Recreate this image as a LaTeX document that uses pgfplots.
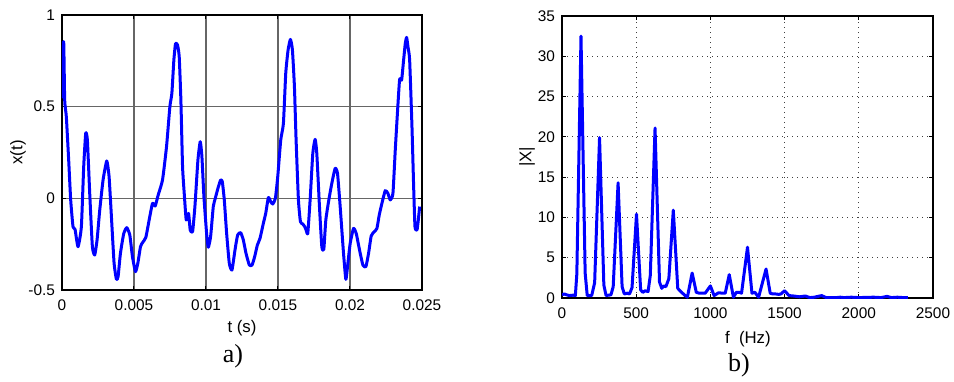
\documentclass[border=0pt]{standalone}
\usepackage{fontspec}
\setmainfont{Liberation Sans}
\newfontfamily\timesfont{Liberation Serif}
\usepackage{pgfplots}
\pgfplotsset{compat=1.18}
\definecolor{gridgray}{gray}{0.4}
\tikzset{tfont/.style={font=\fontsize{7.7}{9}\selectfont},
         lfont/.style={font=\fontsize{8.4}{10}\selectfont}}
\begin{document}
\begin{tikzpicture}[x=1pt,y=1pt]
\useasboundingbox (0,0) rectangle (477,190.5);
\begin{axis}[
  at={(31pt,45.5pt)}, anchor=south west, scale only axis,
  width=180pt, height=137.5pt,
  xmin=0, xmax=0.025, ymin=-0.5, ymax=1,
  xtick={0,0.005,0.01,0.015,0.02,0.025},
  xticklabels={0,0.005,0.01,0.015,0.02,0.025},
  ytick={-0.5,0,0.5,1},
  yticklabels={-0.5,0,0.5,1},
  extra y ticks={0}, extra y tick labels={},
  extra y tick style={grid style={black, line width=0.55pt}},
  scaled x ticks=false,
  grid=major,
  major grid style={gridgray, line width=0.55pt},
  tick align=inside, major tick length=2pt,
  tick style={black, line width=0.5pt},
  axis line style={line width=0.6pt},
  tick label style={tfont},
  xticklabel style={yshift=-1.5pt},
  label style={lfont},
  xlabel={t (s)}, ylabel={x(t)},
  xlabel style={at={(axis description cs:0.5,-0.138)}, anchor=center},
  ylabel style={at={(axis description cs:-0.122,0.5)}, anchor=center, rotate=0},
]
\addplot[blue, line width=1.5pt, line join=round, smooth, tension=0.3] coordinates {
(0,0.545) (0.000116,0.855) (0.000186,0.536) (0.000301,0.445) (0.000464,0.209)
(0.000603,-0.009) (0.000765,-0.155) (0.000904,-0.169) (0.001113,-0.264) (0.001345,-0.155)
(0.001507,0.173) (0.001647,0.355) (0.001763,0.318) (0.001925,0.027) (0.002110,-0.264)
(0.002273,-0.309) (0.002435,-0.227) (0.002621,-0.064) (0.002852,0.1) (0.003108,0.204)
(0.003270,0.118) (0.003432,-0.1) (0.003618,-0.355) (0.003780,-0.442) (0.003896,-0.427)
(0.004058,-0.3) (0.004290,-0.191) (0.004499,-0.16) (0.004708,-0.2) (0.004893,-0.318)
(0.005102,-0.4) (0.005264,-0.355) (0.005450,-0.264) (0.005589,-0.242) (0.005821,-0.213)
(0.006053,-0.118) (0.006285,-0.027) (0.006470,-0.042) (0.006679,0.018) (0.006980,0.1)
(0.007259,0.282) (0.007491,0.5) (0.007630,0.573) (0.007769,0.755) (0.007885,0.845)
(0.008024,0.836) (0.008140,0.773) (0.008256,0.536) (0.008372,0.173) (0.008488,0.027)
(0.008627,-0.118) (0.008789,-0.082) (0.008905,-0.173) (0.009068,-0.182) (0.009230,-0.045)
(0.009439,0.209) (0.009601,0.309) (0.009717,0.227) (0.009856,0.009) (0.010042,-0.191)
(0.010158,-0.267) (0.010320,-0.209) (0.010506,-0.045) (0.010645,0) (0.010830,0.055)
(0.011016,0.1) (0.011132,0.091) (0.011271,-0.009) (0.011433,-0.191) (0.011619,-0.355)
(0.011804,-0.391) (0.012013,-0.282) (0.012198,-0.2) (0.012407,-0.187) (0.012593,-0.227)
(0.012778,-0.3) (0.013010,-0.364) (0.013196,-0.364) (0.013381,-0.318) (0.013567,-0.255)
(0.013752,-0.218) (0.013984,-0.136) (0.014147,-0.082) (0.014332,0.004) (0.014494,-0.018)
(0.014634,-0.031) (0.014819,0) (0.014982,0.118) (0.015190,0.318) (0.015376,0.409)
(0.015538,0.682) (0.015700,0.809) (0.015863,0.867) (0.016002,0.809) (0.016141,0.609)
(0.016257,0.318) (0.016419,-0.009) (0.016558,-0.127) (0.016721,-0.14) (0.016860,-0.155)
(0.016953,-0.173) (0.017069,-0.191) (0.017231,-0.009) (0.017417,0.245) (0.017579,0.322)
(0.017695,0.245) (0.017880,-0.045) (0.018043,-0.264) (0.018182,-0.278) (0.018321,-0.118)
(0.018530,-0.009) (0.018738,0.082) (0.018970,0.164) (0.019133,0.136) (0.019318,-0.045)
(0.019550,-0.3) (0.019712,-0.442) (0.019828,-0.373) (0.020014,-0.245) (0.020246,-0.164)
(0.020431,-0.191) (0.020663,-0.282) (0.020895,-0.364) (0.021104,-0.373) (0.021289,-0.3)
(0.021475,-0.205) (0.021684,-0.182) (0.021869,-0.164) (0.022031,-0.091) (0.022217,-0.027)
(0.022449,0.042) (0.022634,0.027) (0.022797,-0.009) (0.022982,0.027) (0.023144,0.264)
(0.023307,0.482) (0.023446,0.649) (0.023585,0.645) (0.023724,0.755) (0.023840,0.845)
(0.023933,0.878) (0.024026,0.827) (0.024142,0.755) (0.024304,0.391) (0.024420,0.064)
(0.024513,-0.155) (0.024652,-0.173) (0.024745,-0.118) (0.024838,-0.045)
};
\end{axis}
\node[font=\timesfont\fontsize{13}{15}\selectfont] at (116.5,12.5) {a)};
\begin{axis}[
  at={(281pt,41.5pt)}, anchor=south west, scale only axis,
  width=185.5pt, height=141pt,
  xmin=0, xmax=2500, ymin=0, ymax=35,
  xtick={0,500,1000,1500,2000,2500},
  xticklabels={0,500,1000,1500,2000,2500},
  ytick={0,5,10,15,20,25,30,35},
  yticklabels={0,5,10,15,20,25,30,35},
  grid=major,
  major grid style={black!75, line width=0.5pt, dotted},
  tick align=inside, major tick length=2pt,
  tick style={black, line width=0.6pt},
  axis line style={line width=1.3pt},
  tick label style={tfont},
  xticklabel style={yshift=-1.5pt},
  label style={lfont},
  xlabel={f\ \ (Hz)}, ylabel={|X|},
  xlabel style={at={(axis description cs:0.501,-0.145)}, anchor=center},
  ylabel style={at={(axis description cs:-0.094,0.5)}, anchor=center},
]
\addplot[blue, line width=1.5pt, line join=round] coordinates {
(0,0.4) (15,0.5) (30,0.4) (50,0.3) (75,0.35) (90,0.3) (100,3.0) (128,32.5) (156,3.1)
(170,0.3) (200,0.3) (220,1.9) (253,19.9) (282,1.6) (297,0.3) (330,0.4) (345,1.4)
(378,14.3) (405,1.4) (420,0.5) (440,0.6) (455,0.5) (472,1.3) (502,10.4) (530,1.0)
(545,0.7) (560,0.9) (580,0.8) (595,2.8) (627,21.1) (657,2.0) (672,1.2) (685,1.5)
(700,1.4) (720,2.4) (750,10.9) (780,1.2) (800,0.8) (830,0.3) (845,0.1) (877,3.1)
(905,0.7) (925,0.6) (945,0.6) (965,0.6) (1000,1.5) (1025,0.3) (1055,0.65) (1080,0.6)
(1100,0.6) (1127,2.9) (1155,0.1) (1175,0.7) (1195,0.7) (1210,0.6) (1250,6.3) (1280,0.6)
(1300,0.7) (1325,0.1) (1375,3.6) (1403,0.6) (1420,0.5) (1440,0.5) (1460,0.45) (1475,0.5)
(1500,0.9) (1530,0.3) (1560,0.25) (1600,0.15) (1640,0.25) (1670,0.05) (1700,0.1)
(1750,0.3) (1780,0.05) (1850,0.05) (1875,0.1) (1900,0.05) (1950,0.1) (2000,0.05)
(2100,0.1) (2150,0.05) (2190,0.2) (2220,0.05) (2260,0.1) (2300,0.05) (2330,0.05)
};
\end{axis}
\node[font=\timesfont\fontsize{13}{15}\selectfont] at (369.5,8) {b)};
\end{tikzpicture}
\end{document}
